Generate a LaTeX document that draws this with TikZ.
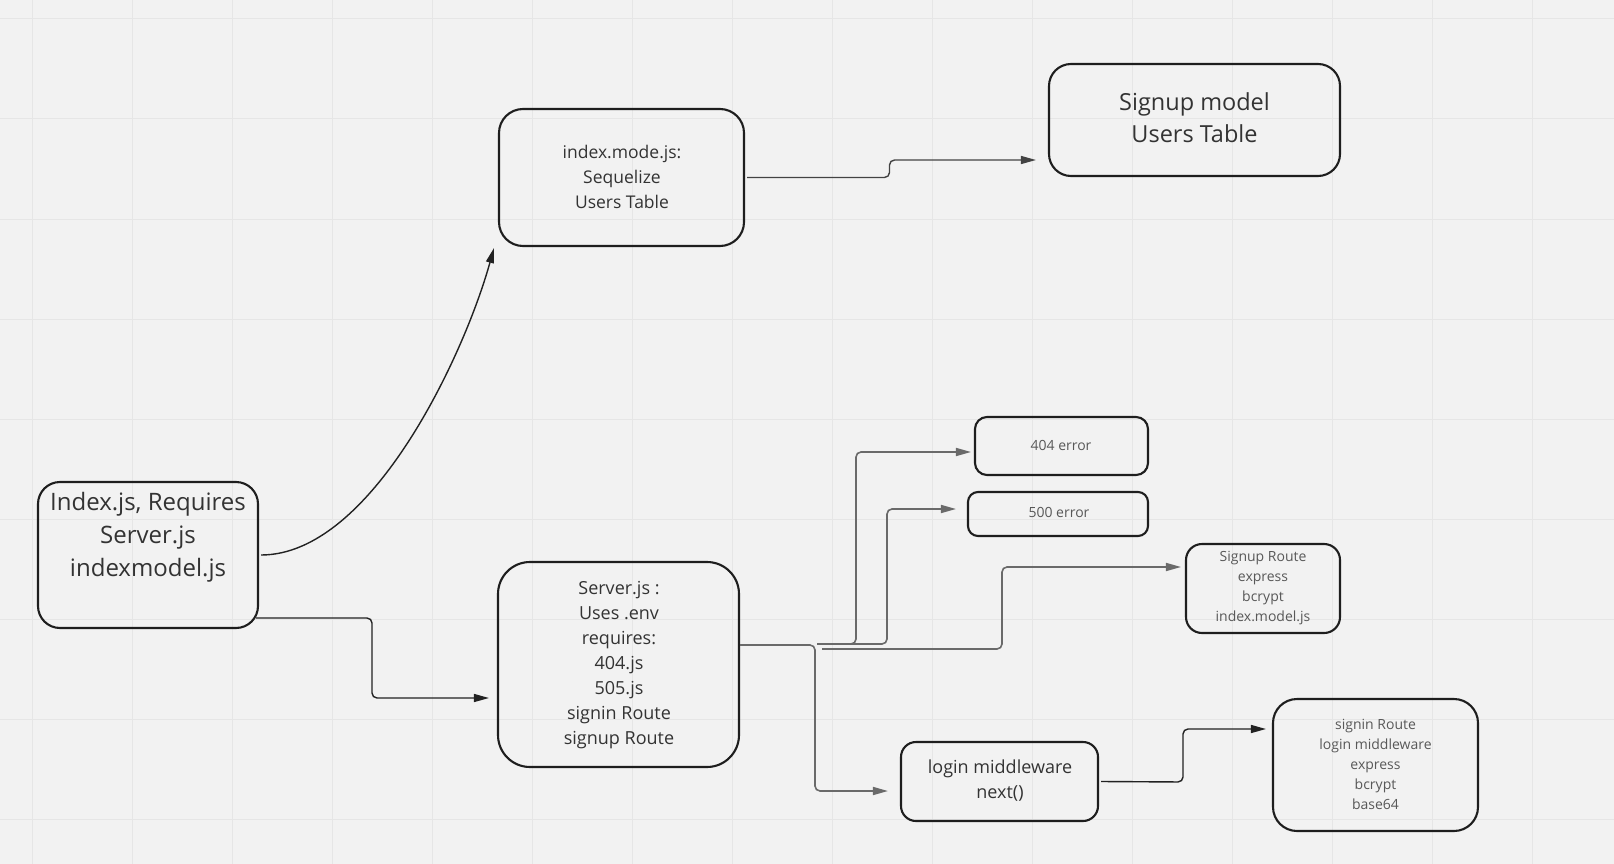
\documentclass[tikz,border=0pt]{standalone}
\usepackage{fontspec}
\setmainfont{Open Sans}
\usetikzlibrary{arrows.meta,calc}
\definecolor{bg}{HTML}{F2F2F2}
\definecolor{gridc}{HTML}{E6E6E6}
\definecolor{edge}{HTML}{1E1E1E}
\definecolor{ink}{HTML}{333333}
\definecolor{smallink}{HTML}{585858}
\definecolor{connd}{HTML}{222222}
\definecolor{conng}{HTML}{6A6A6A}
\begin{document}
\begin{tikzpicture}[x=1pt,y=-1pt,
  ubox/.style={draw=edge,line width=2.1pt,inner sep=0pt},
  utext/.style={align=center,inner sep=0pt,text=ink},
  usmall/.style={align=center,inner sep=0pt,text=smallink,font=\fontsize{14}{20}\selectfont},
  conn/.style={draw=connd,line width=1.4pt,rounded corners=5pt,-{Triangle[length=15pt,width=8pt]}},
  conng/.style={conn,draw=conng,line width=1.6pt}
]
\fill[bg] (0,0) rectangle (1614,864);
\useasboundingbox (0,0) rectangle (1614,864);
\foreach \x in {32,132,...,1532} \draw[gridc,line width=1pt] (\x,0) -- (\x,864);
\foreach \y in {19,119,...,819} \draw[gridc,line width=1pt] (0,\y) -- (1614,\y);

% boxes
\node[ubox,minimum width=220pt,minimum height=146pt,rounded corners=22pt] (idx) at (148,555) {};
\node[ubox,minimum width=245pt,minimum height=137pt,rounded corners=24pt] (model) at (621.5,177.5) {};
\node[ubox,minimum width=291pt,minimum height=112pt,rounded corners=22pt] (signupmodel) at (1194.5,120) {};
\node[ubox,minimum width=241pt,minimum height=205pt,rounded corners=32pt] (server) at (618.5,664.5) {};
\node[ubox,minimum width=173pt,minimum height=58pt,rounded corners=12pt] (e404) at (1061.5,446) {};
\node[ubox,minimum width=180pt,minimum height=44pt,rounded corners=10pt] (e500) at (1058,514) {};
\node[ubox,minimum width=154pt,minimum height=89pt,rounded corners=16pt] (signuproute) at (1263,588.5) {};
\node[ubox,minimum width=197pt,minimum height=79pt,rounded corners=15pt] (loginmw) at (999.5,781.5) {};
\node[ubox,minimum width=205pt,minimum height=132pt,rounded corners=24pt] (signin) at (1375.5,765) {};

% texts
\node[utext,font=\fontsize{24}{33}\selectfont] (tidx) at (148,537.5) {Index.js, Requires\\Server.js\\indexmodel.js};
\node[utext,font=\fontsize{17.5}{25}\selectfont] (tmodel) at (622,176.5) {index.mode.js:\\Sequelize\\Users Table};
\node[utext,font=\fontsize{23.5}{32}\selectfont] (tsignupmodel) at (1194.5,117.5) {Signup model\\Users Table};
\node[utext,font=\fontsize{18}{25}\selectfont] (tserver) at (619,665) {Server.js :\\Uses .env\\requires:\\404.js\\505.js\\signin Route\\signup Route};
\node[usmall] (t404) at (1061,445) {404 error};
\node[usmall] (t500) at (1059,512.5) {500 error};
\node[usmall] (tsignuproute) at (1263,588) {Signup Route\\express\\bcrypt\\index.model.js};
\node[utext,font=\fontsize{18}{25}\selectfont] (tloginmw) at (1000,780.5) {login middleware\\next()};
\node[usmall] (tsignin) at (1375.5,764) {signin Route\\login middleware\\express\\bcrypt\\base64};

% connectors
\draw[conn,rounded corners=0pt] ([xshift=2pt]idx.east) .. controls +(110,0) and +(-30,108) .. ([xshift=-4pt,yshift=-1pt]model.south west);
\draw[conn] ([xshift=-3pt,yshift=-63pt]idx.east) -- (372,618) |- ([xshift=-8pt,yshift=-33.5pt]server.west);
\draw[conn,draw=connd!85!white] ([xshift=2pt]model.east) -- (889.5,177.5) |- ([xshift=-12pt,yshift=-40pt]signupmodel.west);
\draw[conng] ([yshift=19.5pt]server.east) -- (815,645) |- ([xshift=-12pt,yshift=-9.5pt]loginmw.west);
\coordinate (hub) at (817,644);
\coordinate (hubb) at (822,649);
\draw[conng] (hub) -- (856,644) |- ([xshift=-3pt,yshift=-6pt]e404.west);
\draw[conng] (hub) -- (887,644) |- ([xshift=-11pt,yshift=5pt]e500.west);
\draw[conng] (hubb) -- (1002,649) |- ([xshift=-4pt,yshift=21.5pt]signuproute.west);
\draw[conn] ([xshift=2pt]loginmw.east) -- (1183,782) |- ([xshift=-6pt,yshift=36pt]signin.west);
\end{tikzpicture}
\end{document}
